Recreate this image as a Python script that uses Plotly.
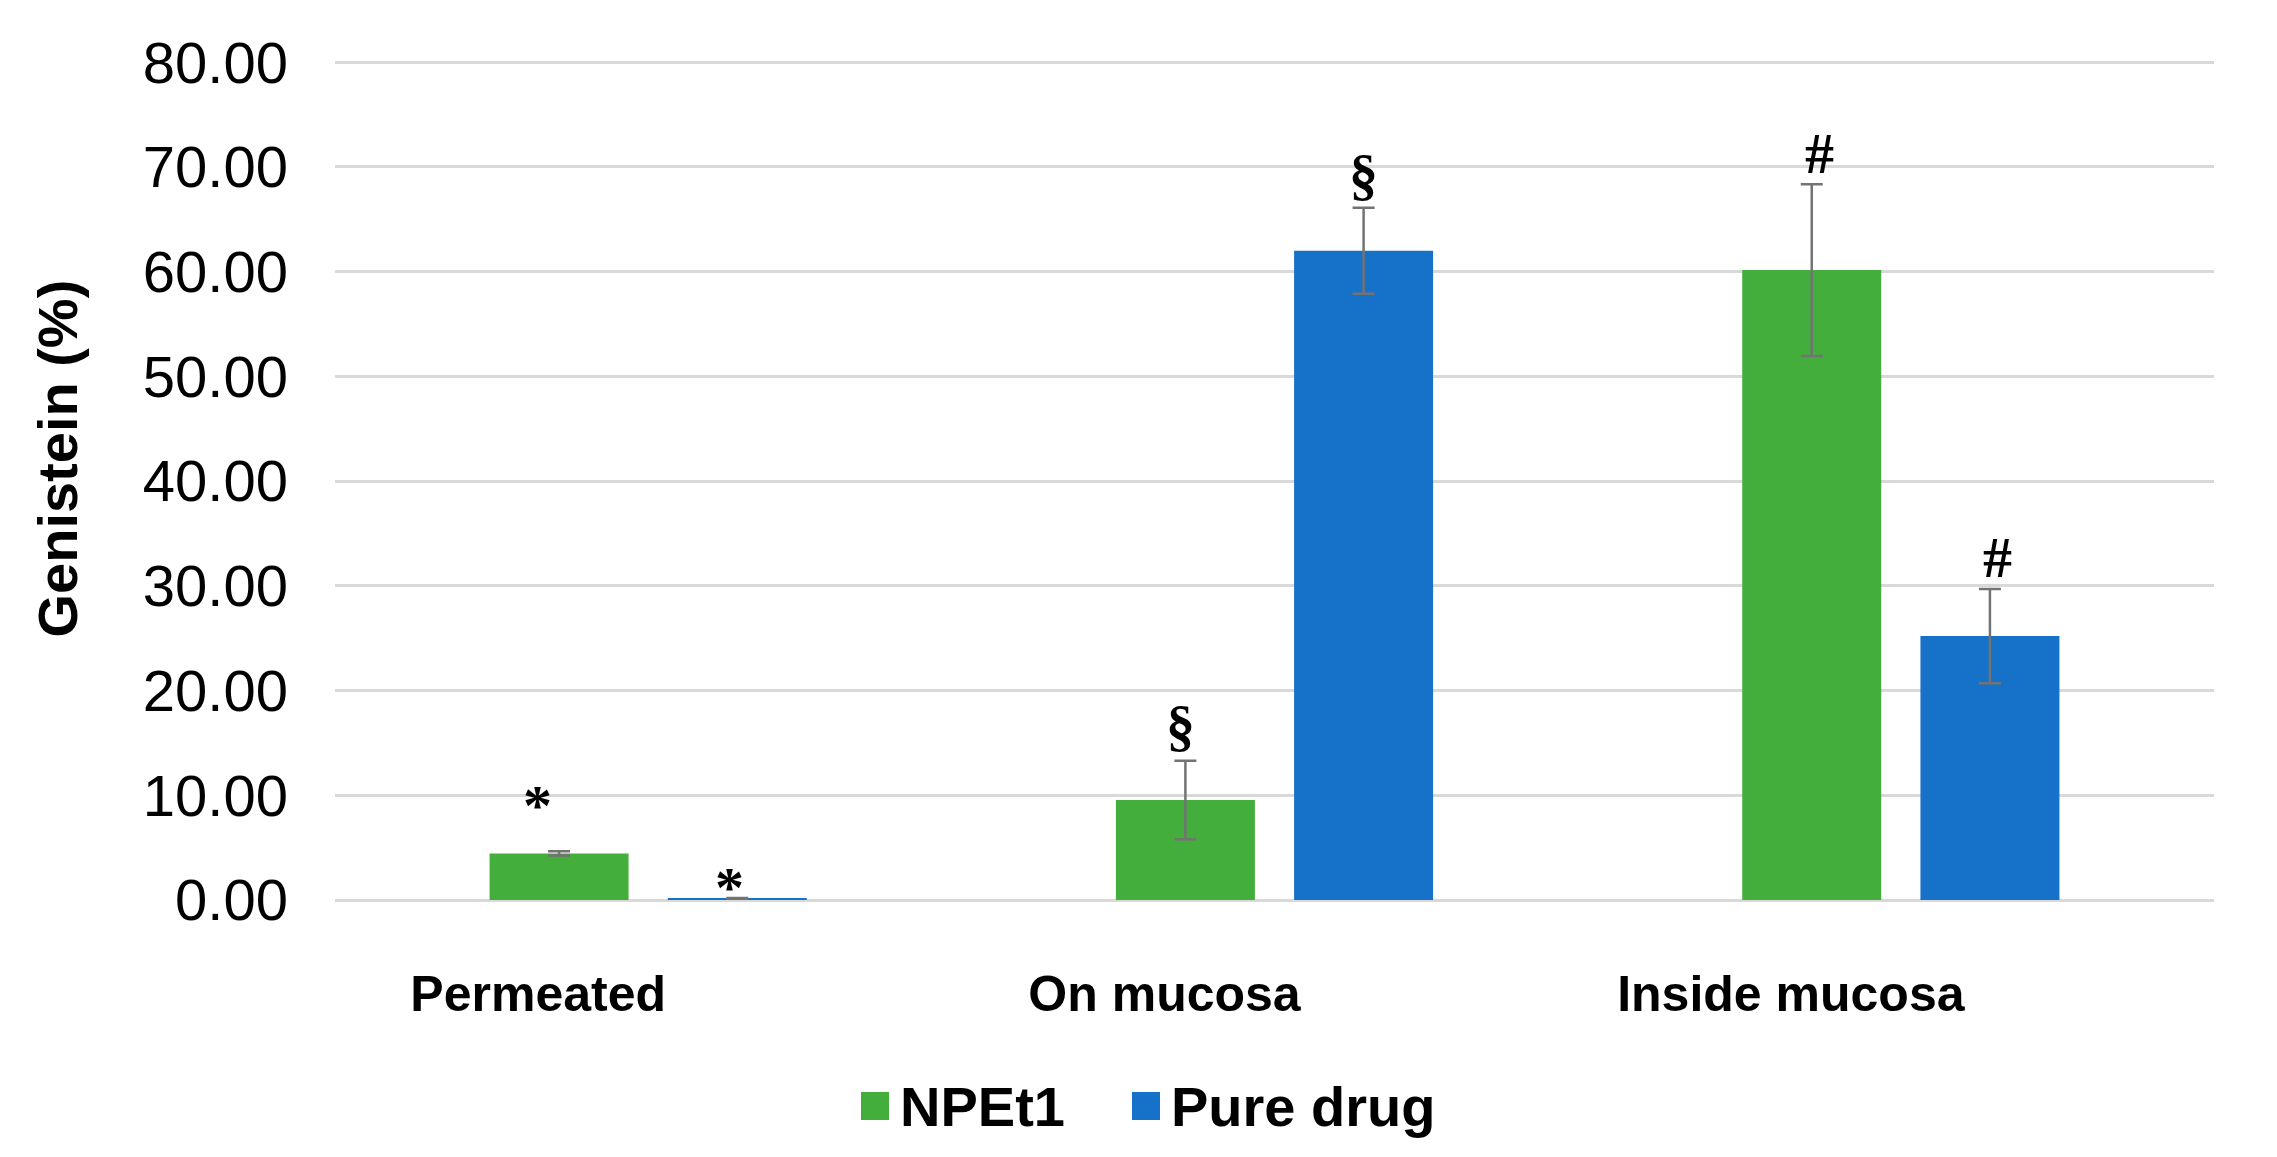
import plotly.graph_objects as go

categories = ["Permeated", "On mucosa", "Inside mucosa"]
series_names = ["NPEt1", "Pure drug"]
npet1_values = [4.45, 9.55, 60.15]
npet1_errors = [0.2, 3.75, 8.2]
pure_values = [0.1, 62.0, 25.2]
pure_errors = [0.1, 4.1, 4.5]
npet1_marks = ["*", "§", "#"]
pure_marks = ["*", "§", "#"]
y_ticks = [0, 10, 20, 30, 40, 50, 60, 70, 80]

GREEN = "#44AE3C"
BLUE = "#1671C8"
COLORS = [GREEN, BLUE]
ERR = "#737373"
FONT = "Liberation Sans, Arial, sans-serif"
MARK_FONT = "Liberation Serif, Times New Roman, serif"

W, H = 2277, 1157
Y_TOP = 80.5
ML, MR, MT, MB = 327, 71, 49, 265
plot_w = W - ML - MR
plot_h = H - MT - MB
cat_w = plot_w / len(categories)
BARGAP = 0.431
slot = cat_w * (1 - BARGAP) / 2

fig = go.Figure()
for name, vals, errs, col in [(series_names[0], npet1_values, npet1_errors, GREEN),
                              (series_names[1], pure_values, pure_errors, BLUE)]:
    fig.add_trace(go.Bar(
        name=name, x=categories, y=vals, showlegend=False,
        marker=dict(color=col, line=dict(width=0)),
        error_y=dict(type="data", array=errs, visible=True,
                     color=ERR, thickness=2.5, width=11),
    ))

annotations = []
shapes = []
# pixel offset of each significance mark's centre above its error-bar cap
mark_yshift = {"*": 10, "§": 33, "#": 31}
extra_lift = {(0, 0): 36, (0, 1): 2}
extra_x = {(0, 0): -22, (1, 0): -8, (0, 1): -5, (0, 2): 8, (1, 2): 8}
for si, (vals, errs, marks) in enumerate([(npet1_values, npet1_errors, npet1_marks),
                                          (pure_values, pure_errors, pure_marks)]):
    for ci, cat in enumerate(categories):
        annotations.append(dict(
            x=cat, y=vals[ci] + errs[ci], xref="x", yref="y",
            text=marks[ci], showarrow=False,
            xshift=(-slot / 2 if si == 0 else slot / 2) + extra_x.get((si, ci), 0),
            yanchor="middle",
            yshift=mark_yshift[marks[ci]] + extra_lift.get((si, ci), 0),
            font=dict(family=MARK_FONT, size=58, color="#000000", weight="bold"),
        ))

# y-axis title
annotations.append(dict(
    x=0, xref="paper", xshift=-277, xanchor="center",
    y=0.5237, yref="paper", yanchor="middle",
    text="Genistein (%)", textangle=-90, showarrow=False,
    font=dict(family=FONT, size=56, color="#000000", weight="bold"),
))

# legend (square swatch + label for each series)
legend_px = [853, 1124]
legend_py = 1098
for name, col, px in zip(series_names, COLORS, legend_px):
    xp = (px - ML) / plot_w
    yp = (H - MB - legend_py) / plot_h
    shapes.append(dict(
        type="rect", xref="paper", yref="paper",
        xsizemode="pixel", ysizemode="pixel",
        xanchor=xp, yanchor=yp, x0=0, x1=28, y0=-14, y1=14,
        fillcolor=col, line=dict(width=0),
    ))
    annotations.append(dict(
        x=xp, xref="paper", xshift=37, xanchor="left",
        y=yp, yref="paper", yanchor="middle",
        text=name, showarrow=False,
        font=dict(family=FONT, size=56, color="#000000", weight="bold"),
    ))

fig.update_layout(
    width=W, height=H,
    margin=dict(l=ML, r=MR, t=MT, b=MB, autoexpand=False),
    paper_bgcolor="white", plot_bgcolor="white",
    barmode="group", bargap=BARGAP, bargroupgap=0.22,
    showlegend=False,
    annotations=annotations,
    shapes=shapes,
    xaxis=dict(
        type="category", showgrid=False, showline=False, zeroline=False,
        ticks="", ticklabelstandoff=60, ticklabelshift=-110,
        tickfont=dict(family=FONT, size=50, color="#000000", weight="bold"),
        automargin=False,
    ),
    yaxis=dict(
        range=[0, Y_TOP], tickvals=y_ticks, tickformat=".2f",
        showgrid=True, gridcolor="#D9D9D9", gridwidth=2.5,
        zeroline=True, zerolinecolor="#D9D9D9", zerolinewidth=2.5,
        showline=False, ticks="", ticklabelstandoff=46,
        tickfont=dict(family=FONT, size=58, color="#000000"),
        automargin=False,
    ),
)

fig.write_html("out.html")
